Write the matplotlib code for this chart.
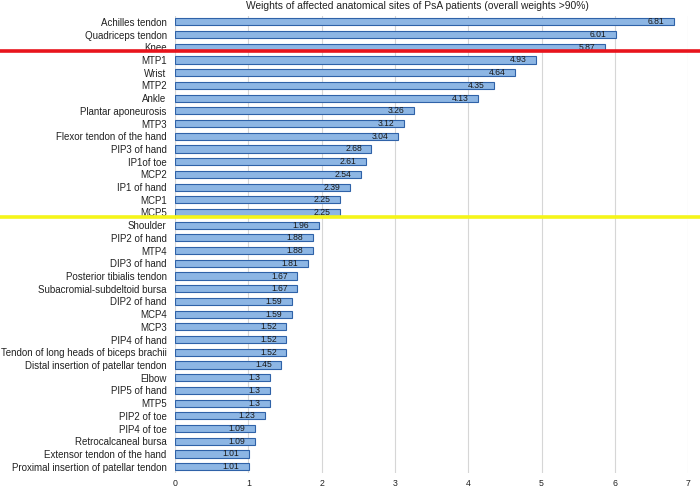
import matplotlib
matplotlib.use("Agg")
import matplotlib.pyplot as plt
from matplotlib.lines import Line2D

sites = [
    "Achilles tendon", "Quadriceps tendon", "Knee", "MTP1", "Wrist", "MTP2",
    "Ankle", "Plantar aponeurosis", "MTP3", "Flexor tendon of the hand",
    "PIP3 of hand", "IP1of toe", "MCP2", "IP1 of hand", "MCP1", "MCP5",
    "Shoulder", "PIP2 of hand", "MTP4", "DIP3 of hand",
    "Posterior tibialis tendon", "Subacromial-subdeltoid bursa",
    "DIP2 of hand", "MCP4", "MCP3", "PIP4 of hand",
    "Tendon of long heads of biceps brachii",
    "Distal insertion of patellar tendon", "Elbow", "PIP5 of hand", "MTP5",
    "PIP2 of toe", "PIP4 of toe", "Retrocalcaneal bursa",
    "Extensor tendon of the hand", "Proximal insertion of patellar tendon",
]
weights = [
    6.81, 6.01, 5.87, 4.93, 4.64, 4.35, 4.13, 3.26, 3.12, 3.04,
    2.68, 2.61, 2.54, 2.39, 2.25, 2.25, 1.96, 1.88, 1.88, 1.81,
    1.67, 1.67, 1.59, 1.59, 1.52, 1.52, 1.52, 1.45, 1.3, 1.3, 1.3,
    1.23, 1.09, 1.09, 1.01, 1.01,
]
x_ticks = [0, 1, 2, 3, 4, 5, 6, 7]

plt.rcParams['font.family'] = ['Liberation Sans', 'DejaVu Sans']

fig = plt.figure(figsize=(7, 4.88), dpi=100)
ax = fig.add_axes([0.25, 0.0307, 0.733, 0.9375])

ypos = list(range(len(sites)))
ax.barh(ypos, weights, height=0.56, color='#8db6e4', edgecolor='#2f62a8',
        linewidth=0.8, zorder=3)
for y, w in zip(ypos, weights):
    ax.text(w - 0.13, y, f"{w:g}", ha='right', va='center', fontsize=6.2,
            color='#1a1a1a', zorder=4)

ax.set_yticks(ypos)
ax.set_yticklabels(sites, fontsize=7.0, color='#222222')
ax.set_ylim(len(sites) - 0.5, -0.5)
ax.set_xlim(0, 7)
ax.set_xticks(x_ticks)
ax.set_xticklabels([str(t) for t in x_ticks], fontsize=6.3, color='#222222')
ax.tick_params(axis='y', length=0, pad=6)
ax.tick_params(axis='x', length=0, pad=4.5)
ax.grid(axis='x', color='#d6d6d6', linewidth=0.8, zorder=0)
for s in ax.spines.values():
    s.set_visible(False)

fig.suptitle("Weights of affected anatomical sites of PsA patients (overall weights >90%)",
             fontsize=7.4, x=0.597, y=0.998, va='top', color='#222222')

# divider lines drawn across the whole figure
fig.add_artist(Line2D([0, 1], [0.8955, 0.8955], color='#e8141c', linewidth=2.6,
                      transform=fig.transFigure))
fig.add_artist(Line2D([0, 1], [0.556, 0.556], color='#f5f51a', linewidth=2.6,
                      transform=fig.transFigure))

fig.savefig("out.png", dpi=100)
